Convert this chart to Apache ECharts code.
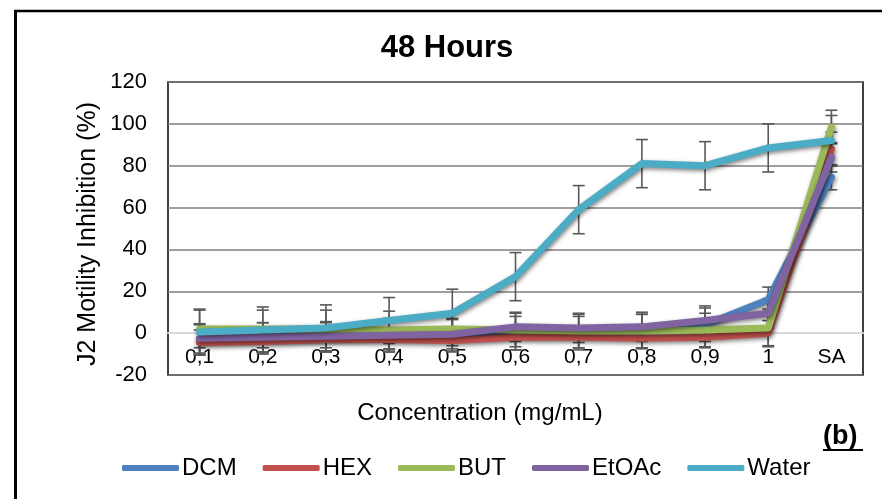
<!DOCTYPE html>
<html>
<head>
<meta charset="utf-8">
<script src="https://cdn.jsdelivr.net/npm/echarts@6/dist/echarts.min.js"></script>
<style>
  html, body { margin: 0; padding: 0; background: #fff; }
  #chart { width: 882px; height: 499px; }
</style>
</head>
<body>
<div id="chart"></div>
<script>
// Concentrations (mg/mL) plus the standard (SA)
const categories = ['0,1', '0,2', '0,3', '0,4', '0,5', '0,6', '0,7', '0,8', '0,9', '1', 'SA'];

// Mean J2 motility inhibition (%) after 48 h
const dcm   = [-3, -2, -2, -1, -1, 0, 0, 1, 4, 16, 74.5];
const hex   = [-4.5, -4, -3, -3, -3.5, -2, -2, -2.5, -2, 0, 88];
const but   = [2, 2, 2, 1.5, 2, 1.5, 1, 1, 1.5, 2.5, 98.5];
const etoac = [-2.5, -2, -1.5, -1, -0.5, 3, 2.5, 3, 6, 9.5, 84];
const water = [0.5, 1.5, 2.5, 6, 9.5, 27, 59, 81, 80, 88.5, 92];

// Standard deviations (±)
const dcmErr   = [7, 7, 7, 8, 8, 8, 8, 8, 8, 6, 6];
const hexErr   = [6, 6, 6, 5, 5, 6, 5, 5, 5, 6, 8];
const butErr   = [9, 9, 9, 9, 8, 8, 8, 8, 8, 9, 8];
const etoacErr = [7, 7, 7, 8, 7, 7, 7, 7, 7, 7, 7];
const waterErr = [11, 11, 11, 11, 11.5, 11.5, 11.5, 11.5, 11.5, 11.5, 12];

const yTicks = [-20, 0, 20, 40, 60, 80, 100, 120];

const seriesDefs = [
  { name: 'DCM',   values: dcm,   errors: dcmErr,   color: '#4F81BD' },
  { name: 'HEX',   values: hex,   errors: hexErr,   color: '#C0504D' },
  { name: 'BUT',   values: but,   errors: butErr,   color: '#9BBB59' },
  { name: 'EtOAc', values: etoac, errors: etoacErr, color: '#8064A2' },
  { name: 'Water', values: water, errors: waterErr, color: '#4BACC6' }
];

const FONT = 'Arial, "Liberation Sans", sans-serif';

function errorBarRender(params, api) {
  const x = api.value(0);
  const lo = api.coord([x, api.value(1)]);
  const hi = api.coord([x, api.value(2)]);
  const half = 6;
  const style = { stroke: '#595959', lineWidth: 1.6 };
  return {
    type: 'group',
    children: [
      { type: 'line', shape: { x1: hi[0], y1: hi[1], x2: lo[0], y2: lo[1] }, style },
      { type: 'line', shape: { x1: hi[0] - half, y1: hi[1], x2: hi[0] + half, y2: hi[1] }, style },
      { type: 'line', shape: { x1: lo[0] - half, y1: lo[1], x2: lo[0] + half, y2: lo[1] }, style }
    ]
  };
}

const series = [];
seriesDefs.forEach((s) => {
  series.push({
    name: s.name,
    type: 'custom',
    renderItem: errorBarRender,
    encode: { x: 0, y: [1, 2] },
    data: s.values.map((v, k) => [k, v - s.errors[k], v + s.errors[k]]),
    z: 2,
    silent: true,
    legendHoverLink: false
  });
});
seriesDefs.forEach((s, i) => {
  series.push({
    name: s.name,
    type: 'line',
    data: s.values,
    showSymbol: false,
    symbol: 'none',
    color: s.color,
    z: 10 + i,
    lineStyle: {
      width: 7,
      color: s.color,
      cap: 'round',
      join: 'round',
      shadowColor: 'rgba(0,0,0,0.5)',
      shadowBlur: 4,
      shadowOffsetX: 1,
      shadowOffsetY: 2
    }
  });
});

const chart = echarts.init(document.getElementById('chart'), null, { renderer: 'canvas' });
chart.setOption({
  animation: false,
  backgroundColor: '#ffffff',
  title: {
    text: '48 Hours',
    left: 442,
    top: 28,
    textAlign: 'center',
    textStyle: { fontFamily: FONT, fontSize: 31, fontWeight: 'bold', color: '#000' }
  },
  legend: {
    data: seriesDefs.map(s => ({ name: s.name, icon: 'roundRect', itemStyle: { color: s.color } })),
    left: 117,
    top: 451,
    itemWidth: 57,
    itemHeight: 6,
    itemGap: 26,
    textStyle: { fontFamily: FONT, fontSize: 24, color: '#000', padding: [0, 0, 0, -2] }
  },
  grid: {
    left: 168, top: 82, width: 695, height: 293,
    show: true, borderColor: '#000', borderWidth: 1.5, backgroundColor: 'transparent'
  },
  xAxis: {
    type: 'category',
    data: categories,
    boundaryGap: true,
    axisLine: { onZero: true, lineStyle: { color: '#d9d9d9', width: 2 } },
    axisTick: { show: false },
    axisLabel: { fontFamily: FONT, fontSize: 21, color: '#000', margin: -28 },
    splitLine: { show: false }
  },
  yAxis: {
    type: 'value',
    min: yTicks[0],
    max: yTicks[yTicks.length - 1],
    interval: 20,
    axisLine: { show: false },
    axisTick: { show: false },
    axisLabel: { fontFamily: FONT, fontSize: 22, color: '#000', margin: 21 },
    splitLine: { lineStyle: { color: '#7f7f7f', width: 1.5 } }
  },
  graphic: [
    // outer frame
    { type: 'line', shape: { x1: 15.5, y1: 10, x2: 15.5, y2: 499 }, style: { stroke: '#000', lineWidth: 3 } },
    { type: 'line', shape: { x1: 14, y1: 11, x2: 882, y2: 11 }, style: { stroke: '#000', lineWidth: 2.5 } },
    // axis titles
    { type: 'text', x: 480, y: 413,
      style: { text: 'Concentration (mg/mL)', font: '24px ' + FONT, fill: '#000', align: 'center', verticalAlign: 'middle' } },
    { type: 'text', x: 88, y: 234, rotation: Math.PI / 2,
      style: { text: 'J2 Motility Inhibition (%)', font: '25px ' + FONT, fill: '#000', align: 'center', verticalAlign: 'middle' } },
    // panel tag
    { type: 'text', left: 823, top: 423, style: { text: '(b)', font: 'bold 27px ' + FONT, fill: '#000' } },
    { type: 'line', shape: { x1: 823, y1: 450, x2: 863, y2: 450 }, style: { stroke: '#000', lineWidth: 2 } }
  ],
  series
});
</script>
</body>
</html>
